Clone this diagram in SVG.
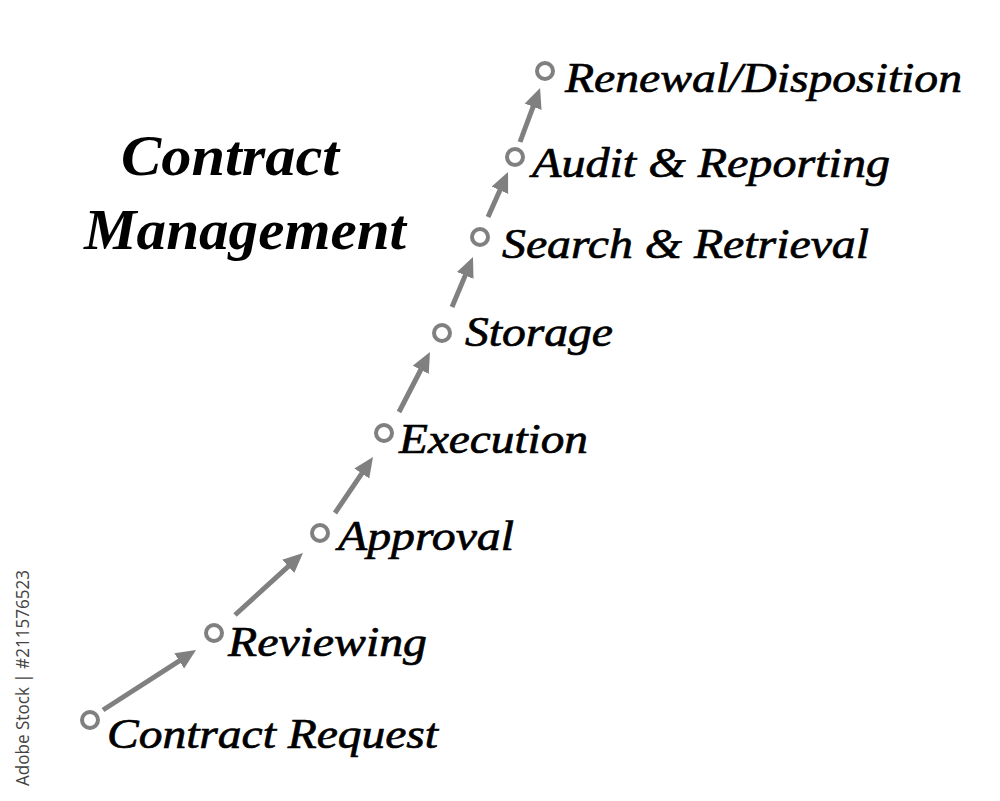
<svg xmlns="http://www.w3.org/2000/svg" width="1000" height="801" viewBox="0 0 1000 801">
<defs>
<style>
.lbl{font-family:"Liberation Serif","Times New Roman",serif;font-style:italic;font-size:43px;fill:#000;stroke:#000;stroke-width:0.7px}
.ttl{font-family:"Liberation Serif","Times New Roman",serif;font-style:italic;font-weight:bold;font-size:57px;fill:#000}
.dot{fill:#fff;stroke:#808080;stroke-width:4}
.arr{stroke:#808080;stroke-width:5;fill:none;marker-end:url(#ah)}
.wm{font-family:"Open Sans","DejaVu Sans",sans-serif;font-size:19px;fill:#444}
</style>
<marker id="ah" markerUnits="userSpaceOnUse" markerWidth="22" markerHeight="20" refX="2" refY="9" orient="auto">
<path d="M0,0 L20,9 L0,18 z" fill="#808080"/>
</marker>
</defs>
<rect width="1000" height="801" fill="#fff"/>
<g id="title">
<text class="ttl" x="121" y="175" textLength="218" lengthAdjust="spacingAndGlyphs">Contract</text>
<text class="ttl" x="84" y="249" textLength="322" lengthAdjust="spacingAndGlyphs">Management</text>
</g>
<g id="connectors">
<line class="arr" x1="103" y1="710" x2="180.9" y2="659.8"/>
<line class="arr" x1="235" y1="615" x2="289.7" y2="565.1"/>
<line class="arr" x1="335" y1="513" x2="362.9" y2="471.9"/>
<line class="arr" x1="399" y1="412" x2="421.7" y2="368"/>
<line class="arr" x1="452" y1="307" x2="466" y2="273.6"/>
<line class="arr" x1="488" y1="217" x2="500.7" y2="188.5"/>
<line class="arr" x1="520" y1="142" x2="533.8" y2="104.9"/>
</g>
<g id="n-contract-request"><circle class="dot" cx="90" cy="720" r="8"/><text class="lbl" x="107" y="748" textLength="331" lengthAdjust="spacingAndGlyphs">Contract Request</text></g>
<g id="n-reviewing"><circle class="dot" cx="214" cy="633" r="8"/><text class="lbl" x="228" y="656" textLength="199" lengthAdjust="spacingAndGlyphs">Reviewing</text></g>
<g id="n-approval"><circle class="dot" cx="320" cy="533" r="8"/><text class="lbl" x="338" y="550" textLength="176" lengthAdjust="spacingAndGlyphs">Approval</text></g>
<g id="n-execution"><circle class="dot" cx="384" cy="433" r="8"/><text class="lbl" x="399" y="453" textLength="189" lengthAdjust="spacingAndGlyphs">Execution</text></g>
<g id="n-storage"><circle class="dot" cx="442" cy="333" r="8"/><text class="lbl" x="465" y="346" textLength="148" lengthAdjust="spacingAndGlyphs">Storage</text></g>
<g id="n-search"><circle class="dot" cx="480" cy="237" r="8"/><text class="lbl" x="502" y="258" textLength="367" lengthAdjust="spacingAndGlyphs">Search &amp; Retrieval</text></g>
<g id="n-audit"><circle class="dot" cx="515" cy="157" r="8"/><text class="lbl" x="532" y="177" textLength="358" lengthAdjust="spacingAndGlyphs">Audit &amp; Reporting</text></g>
<g id="n-renewal"><circle class="dot" cx="545" cy="71" r="8"/><text class="lbl" x="565" y="92" textLength="397" lengthAdjust="spacingAndGlyphs">Renewal/Disposition</text></g>
<text class="wm" transform="translate(29,786) rotate(-90)" textLength="216" lengthAdjust="spacingAndGlyphs">Adobe Stock | #211576523</text>
</svg>
